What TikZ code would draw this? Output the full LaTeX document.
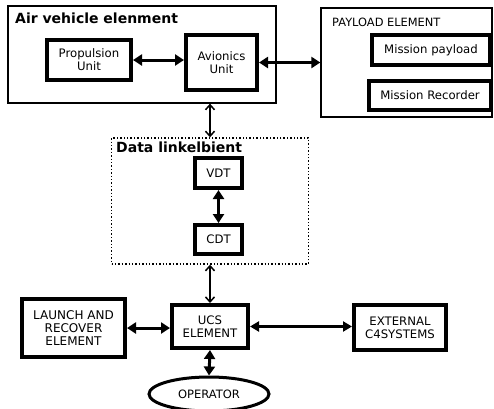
\documentclass[tikz,border=0pt]{standalone}
\usepackage{fontspec}
\setmainfont{DejaVu Sans}
\usetikzlibrary{arrows.meta,shapes.geometric}

\tikzset{
  groupbox/.style={draw, line width=1.3pt, inner sep=0pt},
  linkbox/.style={draw, line width=1.4pt, dotted, inner sep=0pt},
  unitbox/.style={draw, line width=4pt, align=center, inner sep=0pt, font=\fontsize{11.7}{13}\selectfont},
  grouptitle/.style={anchor=base west, inner sep=0pt, font=\bfseries\fontsize{14}{16}\selectfont},
  heavylink/.style={line width=3pt, {Triangle[length=9pt,width=11pt]}-{Triangle[length=9pt,width=11pt]}},
  widelink/.style={line width=2.2pt, {Triangle[length=9pt,width=10pt]}-{Triangle[length=9pt,width=10pt]}},
  lightlink/.style={line width=1.5pt, {Straight Barb[length=5pt,width=9pt]}-{Straight Barb[length=5pt,width=9pt]}}
}

\begin{document}
\begin{tikzpicture}[x=1pt,y=-1pt]
  \useasboundingbox (0,0) rectangle (494,408);

  % air vehicle
  \node[groupbox, minimum width=268pt, minimum height=97pt] (air) at (142,54.5) {};
  \node[grouptitle] (airtitle) at (15,23) {Air vehicle elenment};
  \node[unitbox, minimum width=84pt, minimum height=40pt] (prop) at (89,60) {Propulsion\\Unit};
  \node[unitbox, minimum width=71pt, minimum height=55pt] (avio) at (221.5,62.5) {Avionics\\Unit};

  % payload
  \node[groupbox, minimum width=171pt, minimum height=109pt] (pay) at (406.5,62.5) {};
  \node[anchor=base west, inner sep=0pt, font=\fontsize{11.4}{13}\selectfont] (paytitle) at (332,26) {PAYLOAD ELEMENT};
  \node[unitbox, minimum width=118pt, minimum height=30pt] (mpay) at (431,50) {Mission payload};
  \node[unitbox, minimum width=122pt, minimum height=29pt] (mrec) at (430,95.5) {Mission Recorder};

  % data link
  \node[linkbox, minimum width=197pt, minimum height=126pt] (dl) at (210,201) {};
  \node[grouptitle] (dltitle) at (116,152) {Data linkelbient};
  \node[unitbox, minimum width=47pt, minimum height=30pt] (vdt) at (218.5,173) {VDT};
  \node[unitbox, minimum width=47pt, minimum height=29pt] (cdt) at (218.5,239.5) {CDT};

  % ground
  \node[unitbox, minimum width=76pt, minimum height=43pt] (ucs) at (210,326.5) {UCS\\ELEMENT};
  \node[unitbox, minimum width=103pt, minimum height=58pt, font=\fontsize{12}{13.3}\selectfont] (launch) at (73.5,328) {LAUNCH AND\\RECOVER\\ELEMENT};
  \node[unitbox, minimum width=92pt, minimum height=45pt] (ext) at (400,327.5) {EXTERNAL\\C4SYSTEMS};
  \node[draw, ellipse, line width=3pt, inner sep=0pt, minimum width=120pt, minimum height=34pt, font=\fontsize{11.5}{13}\selectfont] (op) at (209,394) {OPERATOR};

  % links
  \draw[heavylink] (prop.east) -- (prop.east -| avio.west);
  \draw[heavylink] (avio.east) -- (avio.east -| pay.west);
  \draw[lightlink] (dl.north |- air.south) -- (dl.north);
  \draw[heavylink] (vdt.south) -- (cdt.north);
  \draw[lightlink] (dl.south) -- (ucs.north);
  \draw[heavylink] (launch.east) -- (launch.east -| ucs.west);
  \draw[widelink] (ucs.east) -- (ucs.east -| ext.west);
  \draw[heavylink] (ucs.south) -- (op.north);
\end{tikzpicture}
\end{document}
